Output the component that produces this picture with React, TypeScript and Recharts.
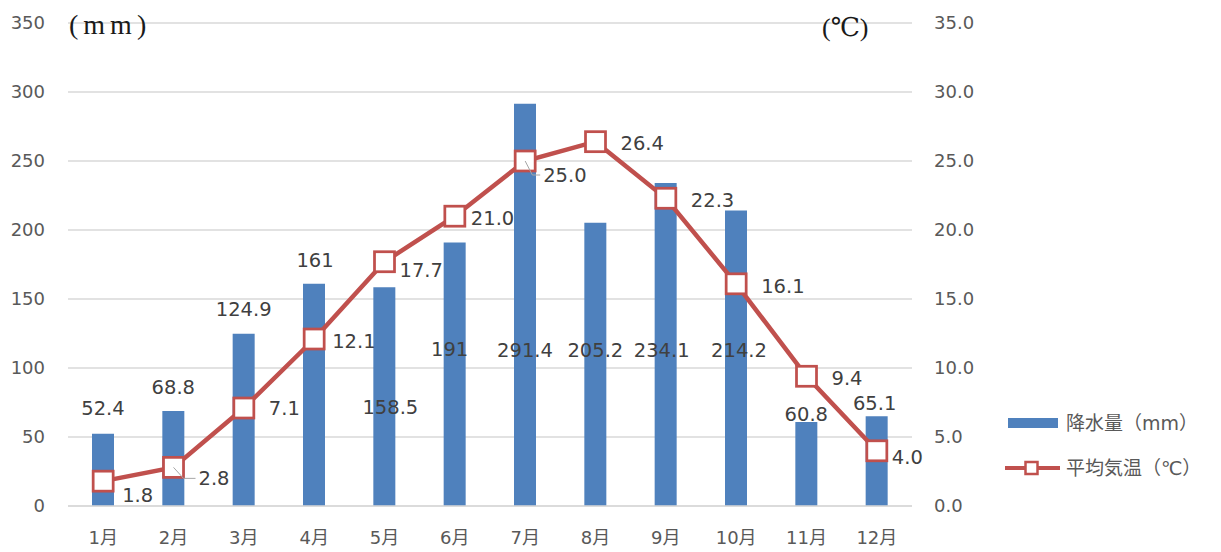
import React from 'react';
import { ComposedChart, Bar, Line, XAxis, YAxis, CartesianGrid, LabelList, Legend } from 'recharts';

const months = ['1月', '2月', '3月', '4月', '5月', '6月', '7月', '8月', '9月', '10月', '11月', '12月'];
const precipitation = [52.4, 68.8, 124.9, 161, 158.5, 191, 291.4, 205.2, 234.1, 214.2, 60.8, 65.1];
const temperature = [1.8, 2.8, 7.1, 12.1, 17.7, 21.0, 25.0, 26.4, 22.3, 16.1, 9.4, 4.0];
const leftTicks = [0, 50, 100, 150, 200, 250, 300, 350];
const rightTicks = [0, 5, 10, 15, 20, 25, 30, 35];

// label nudges (dx, dy) relative to the mark, as placed in the original
const barLabelNudge = [[0, -26], [0, -24], [0, -25], [1, -24], [6, 120], [-5, 107], [0, 246], [0, 127], [-4, 167], [3, 140], [0, -8], [-2, -13]];
const lineLabelNudge = [[19, 14], [25, 11], [25, 0], [18, 2], [15, 8], [16, 2], [18, 14], [25, 1], [25, 2], [25, 2], [25, 2], [15, 6]];
const leaderLabels = [1, 6];

const data = months.map((m, i) => ({ month: m, precipitation: precipitation[i], temperature: temperature[i] }));

const FONT = "'DejaVu Sans', 'Noto Sans CJK JP', sans-serif";
const SERIF = "'Liberation Serif', 'DejaVu Serif', serif";
const BLUE = '#4F81BD';
const RED = '#C0504D';
const GRID = '#D9D9D9';
const LABEL = '#404040';
const TICK = '#595959';

function BarValueLabel(props: any) {
  const vb = props.viewBox || props;
  const idx = props.index ?? 0;
  const [dx, dy] = barLabelNudge[idx] || [0, -20];
  const x = vb.x + vb.width / 2 + dx;
  const y = vb.y + dy;
  return (
    <text x={x} y={y} dy="0.36em" textAnchor="middle" fill={LABEL} fontSize={19.5} fontFamily={FONT}>
      {String(props.value)}
    </text>
  );
}

function LineValueLabel(props: any) {
  const vb = props.viewBox || props;
  const idx = props.index ?? 0;
  const [dx, dy] = lineLabelNudge[idx] || [20, 0];
  const x = vb.x + dx;
  const y = vb.y + dy;
  const v = Number(props.value);
  return (
    <g>
      {leaderLabels.includes(idx) && (
        <polyline
          points={`${vb.x},${vb.y} ${vb.x + dx * 0.4},${y} ${x - 3},${y}`}
          fill="none"
          stroke="#A6A6A6"
          strokeWidth={1}
        />
      )}
      <text x={x} y={y} dy="0.36em" textAnchor="start" fill={LABEL} fontSize={19.5} fontFamily={FONT}>
        {v.toFixed(1)}
      </text>
    </g>
  );
}

function SquareDot(props: any) {
  const { cx, cy, index } = props;
  if (cx == null || cy == null) return null;
  return <rect key={`dot-${index}`} x={cx - 10} y={cy - 10} width={20} height={20} fill="#FFFFFF" stroke={RED} strokeWidth={2.75} />;
}

function LegendContent() {
  return (
    <div style={{ fontFamily: FONT, fontSize: 19, color: TICK, lineHeight: '24px' }}>
      <div style={{ display: 'flex', alignItems: 'center', height: 24 }}>
        <svg width={61} height={24} style={{ display: 'block' }}>
          <rect x={3} y={7} width={50} height={10} fill={BLUE} />
        </svg>
        <span style={{ whiteSpace: 'nowrap' }}>降水量（mm）</span>
      </div>
      <div style={{ display: 'flex', alignItems: 'center', height: 24, marginTop: 21 }}>
        <svg width={61} height={24} style={{ display: 'block' }}>
          <line x1={0} y1={12} x2={55} y2={12} stroke={RED} strokeWidth={4} />
          <rect x={20.5} y={6} width={12} height={12} fill="#FFFFFF" stroke={RED} strokeWidth={2.5} />
        </svg>
        <span style={{ whiteSpace: 'nowrap' }}>平均気温（℃）</span>
      </div>
    </div>
  );
}

export default function App() {
  return (
    <div style={{ position: 'absolute', left: 0, top: 0, width: 1221, height: 552, background: '#FFFFFF' }}>
      <ComposedChart width={1221} height={552} data={data} margin={{ top: 23, right: 209, bottom: 0, left: 0 }}>
        <CartesianGrid vertical={false} stroke={GRID} strokeWidth={1.3} yAxisId="left" />
        <XAxis
          dataKey="month"
          tickSize={0}
          tickLine={false}
          tickMargin={25}
          axisLine={{ stroke: GRID, strokeWidth: 1.3 }}
          tick={{ fill: TICK, fontSize: 18, fontFamily: FONT }}
          height={46}
          interval={0}
        />
        <YAxis
          yAxisId="left"
          domain={[0, 350]}
          ticks={leftTicks}
          width={68}
          tickSize={0}
          tickLine={false}
          axisLine={false}
          tickMargin={23}
          tick={{ fill: TICK, fontSize: 18, fontFamily: FONT }}
          label={{
            content: (p: any) => {
              const vb = p.viewBox || { x: 0, y: 23, width: 68 };
              return (
                <text x={vb.x + vb.width + 1} y={vb.y + 11} fontFamily={SERIF} fontSize={28} letterSpacing={5} fill="#1A1A1A">
                  (mm)
                </text>
              );
            },
          }}
        />
        <YAxis
          yAxisId="right"
          orientation="right"
          domain={[0, 35]}
          ticks={rightTicks}
          width={100}
          tickSize={0}
          tickLine={false}
          axisLine={false}
          tickMargin={22}
          tickFormatter={(v: number) => v.toFixed(1)}
          tick={{ fill: TICK, fontSize: 18, fontFamily: FONT }}
          label={{
            content: (p: any) => {
              const vb = p.viewBox || { x: 912, y: 23 };
              return (
                <text x={vb.x - 90} y={vb.y + 13} fontFamily={SERIF} fontSize={26} fill="#1A1A1A">
                  (℃)
                </text>
              );
            },
          }}
        />
        <Legend
          layout="horizontal"
          verticalAlign="middle"
          align="center"
          content={<LegendContent />}
          wrapperStyle={{ left: 1005, top: 411, width: 216 }}
        />
        <Bar yAxisId="left" dataKey="precipitation" fill={BLUE} barSize={22} isAnimationActive={false}>
          <LabelList dataKey="precipitation" content={<BarValueLabel />} />
        </Bar>
        <Line
          yAxisId="right"
          dataKey="temperature"
          stroke={RED}
          strokeWidth={4.5}
          dot={<SquareDot />}
          activeDot={false}
          isAnimationActive={false}
        >
          <LabelList dataKey="temperature" content={<LineValueLabel />} />
        </Line>
      </ComposedChart>
    </div>
  );
}
